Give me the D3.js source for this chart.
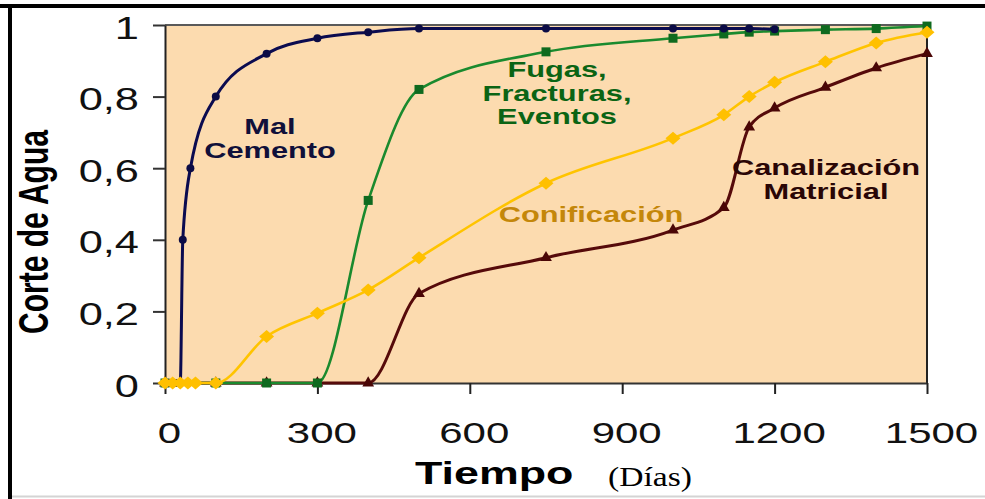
<!DOCTYPE html>
<html>
<head>
<meta charset="utf-8">
<script src="https://cdn.jsdelivr.net/npm/d3@7"></script>
<style>
  html, body { margin: 0; padding: 0; background: #fff; }
  svg { display: block; }
</style>
</head>
<body>
<svg id="chart" width="985" height="499"></svg>
<script>
// ---------------- DATA ----------------
const xTicks = [0, 300, 600, 900, 1200, 1500];
const xTickLabels = ["0", "300", "600", "900", "1200", "1500"];
const yTicks = [0, 0.2, 0.4, 0.6, 0.8, 1];
const yTickLabels = ["0", "0,2", "0,4", "0,6", "0,8", "1"];

const malDays   = [0, 10, 20, 30, 35, 50, 100, 200, 300, 400, 500, 750, 1000, 1100, 1150, 1200];
const malVals   = [0, 0, 0, 0, 0.40, 0.60, 0.80, 0.92, 0.963, 0.98, 0.99, 0.99, 0.99, 0.99, 0.99, 0.988];

const fugDays   = [0, 100, 200, 300, 400, 500, 750, 1000, 1100, 1150, 1200, 1300, 1400, 1500];
const fugVals   = [0, 0, 0, 0, 0.51, 0.82, 0.925, 0.963, 0.975, 0.98, 0.983, 0.987, 0.99, 0.997];

const conDays   = [0, 15, 30, 45, 60, 100, 200, 300, 400, 500, 750, 1000, 1100, 1150, 1200, 1300, 1400, 1500];
const conVals   = [0, 0, 0, 0, 0, 0, 0.13, 0.195, 0.26, 0.35, 0.558, 0.684, 0.749, 0.80, 0.84, 0.897, 0.95, 0.98];

const canDays   = [0, 100, 200, 300, 400, 500, 750, 1000, 1100, 1150, 1200, 1300, 1400, 1500];
const canVals   = [0, 0, 0, 0, 0, 0.25, 0.35, 0.427, 0.49, 0.715, 0.768, 0.826, 0.88, 0.92];

const seriesNames = ["Mal Cemento", "Fugas, Fracturas, Eventos", "Conificación", "Canalización Matricial"];
const xTitle = "Tiempo";
const xUnit = "(Días)";
const yTitle = "Corte de Agua";

// ---------------- LAYOUT ----------------
const svg = d3.select("#chart");
const W = 985, H = 499;
const SX = 1.4; // horizontal stretch seen in the reference
const x = d3.scaleLinear().domain([0, 1500]).range([165, 927]);
const y = d3.scaleLinear().domain([0, 1]).range([383, 25]);

// Frame
svg.append("rect").attr("x", 0).attr("y", 0).attr("width", W).attr("height", H).attr("fill", "#fff");
svg.append("line").attr("x1", 10).attr("x2", 985).attr("y1", 496.5).attr("y2", 496.5)
  .attr("stroke", "#d4d4d4").attr("stroke-width", 2);
svg.append("line").attr("x1", 0).attr("x2", 985).attr("y1", 6).attr("y2", 6)
  .attr("stroke", "#000").attr("stroke-width", 4);
svg.append("line").attr("x1", 10).attr("x2", 10).attr("y1", 4).attr("y2", 499)
  .attr("stroke", "#000").attr("stroke-width", 4);

// Plot area
svg.append("rect").attr("x", x(0)).attr("y", y(1))
  .attr("width", x(1500) - x(0)).attr("height", y(0) - y(1))
  .attr("fill", "#FCDBAF");
svg.append("line").attr("x1", x(0)).attr("x2", x(1500)).attr("y1", y(1)).attr("y2", y(1))
  .attr("stroke", "#5a5a5a").attr("stroke-width", 2);
svg.append("line").attr("x1", x(1500)).attr("x2", x(1500)).attr("y1", y(1)).attr("y2", y(0))
  .attr("stroke", "#222").attr("stroke-width", 2);

// Axes
const fmtX = d => xTickLabels[xTicks.indexOf(d)];
const fmtY = d => yTickLabels[yTicks.indexOf(d)];

const xAxis = svg.append("g").attr("transform", `translate(0,${y(0)})`)
  .call(d3.axisBottom(x).tickValues(xTicks).tickFormat(fmtX).tickSizeInner(11).tickSizeOuter(0).tickPadding(0));
xAxis.select(".domain").attr("stroke", "#333").attr("stroke-width", 2);
xAxis.selectAll(".tick line").attr("stroke", "#222").attr("stroke-width", 2);
xAxis.selectAll(".tick text")
  .attr("font-family", "Liberation Sans, Arial, sans-serif").attr("font-size", 30)
  .attr("fill", "#111").attr("y", 0).attr("dy", 0)
  .attr("transform", `translate(4,60) scale(${SX},1)`);

const yAxis = svg.append("g").attr("transform", `translate(${x(0)},0)`)
  .call(d3.axisLeft(y).tickValues(yTicks).tickFormat(fmtY).tickSizeInner(12).tickSizeOuter(0).tickPadding(0));
yAxis.select(".domain").attr("stroke", "#222").attr("stroke-width", 2);
yAxis.selectAll(".tick line").attr("stroke", "#333").attr("stroke-width", 2);
yAxis.selectAll(".tick text")
  .attr("font-family", "Liberation Sans, Arial, sans-serif").attr("font-size", 31)
  .attr("fill", "#111").attr("x", 0).attr("dy", 0)
  .attr("transform", `translate(-26,13) scale(${SX},1)`);

// Axis titles
svg.append("text").attr("transform", `translate(48,232) scale(${SX},1) rotate(-90)`)
  .attr("text-anchor", "middle").attr("font-family", "Liberation Sans, Arial, sans-serif")
  .attr("font-weight", "bold").attr("font-size", 30).attr("fill", "#000").text(yTitle);

svg.append("text").attr("transform", `translate(415,484) scale(${SX},1)`)
  .attr("font-family", "Liberation Sans, Arial, sans-serif")
  .attr("font-weight", "bold").attr("font-size", 32).attr("fill", "#000").text(xTitle);
svg.append("text").attr("transform", `translate(608,486) scale(1.2,1)`)
  .attr("font-family", "Liberation Serif, Times New Roman, serif")
  .attr("font-size", 28).attr("fill", "#000").text(xUnit);

// ---------------- SERIES ----------------
const mk = (days, vals) => days.map((d, i) => ({ d, v: vals[i] }));
const line = d3.line().x(p => x(p.d)).y(p => y(p.v)).curve(d3.curveMonotoneX);
const plot = svg.append("g");

function drawSeries(data, color, width, markerColor, marker) {
  plot.append("path").datum(data).attr("d", line)
    .attr("fill", "none").attr("stroke", color).attr("stroke-width", width)
    .attr("stroke-linejoin", "round");
  plot.append("g").selectAll("path").data(data).join("path")
    .attr("d", marker).attr("fill", markerColor)
    .attr("transform", p => `translate(${x(p.d)},${y(p.v)})`);
}

const tri = d3.symbol(d3.symbolTriangle, 60)();
const sq = "M-4.5,-4.5H4.5V4.5H-4.5Z";
const dia = "M0,-6.5L7.5,0L0,6.5L-7.5,0Z";
const circ = d3.symbol(d3.symbolCircle, 50)();

drawSeries(mk(canDays, canVals), "#560a0a", 3, "#4a0606", tri);
drawSeries(mk(fugDays, fugVals), "#1a8a2e", 2.6, "#0f6a1f", sq);
drawSeries(mk(malDays, malVals), "#0b0b50", 3, "#0b0b45", circ);
drawSeries(mk(conDays, conVals), "#FFC400", 2.6, "#FFC000", dia);

// ---------------- ANNOTATIONS ----------------
function note(lines, cx, baselines, color) {
  lines.forEach((t, i) => {
    svg.append("text").attr("transform", `translate(${cx},${baselines[i]}) scale(${SX},1)`)
      .attr("text-anchor", "middle").attr("font-family", "Liberation Sans, Arial, sans-serif")
      .attr("font-weight", "bold").attr("font-size", 22).attr("fill", color).text(t);
  });
}
note(["Mal", "Cemento"], 270, [134, 158], "#10103a");
note(["Fugas,", "Fracturas,", "Eventos"], 557, [77, 101, 124], "#0b6414");
note(["Conificación"], 591, [222], "#C4870A");
note(["Canalización", "Matricial"], 826, [175, 199], "#2a0606");
</script>
</body>
</html>
